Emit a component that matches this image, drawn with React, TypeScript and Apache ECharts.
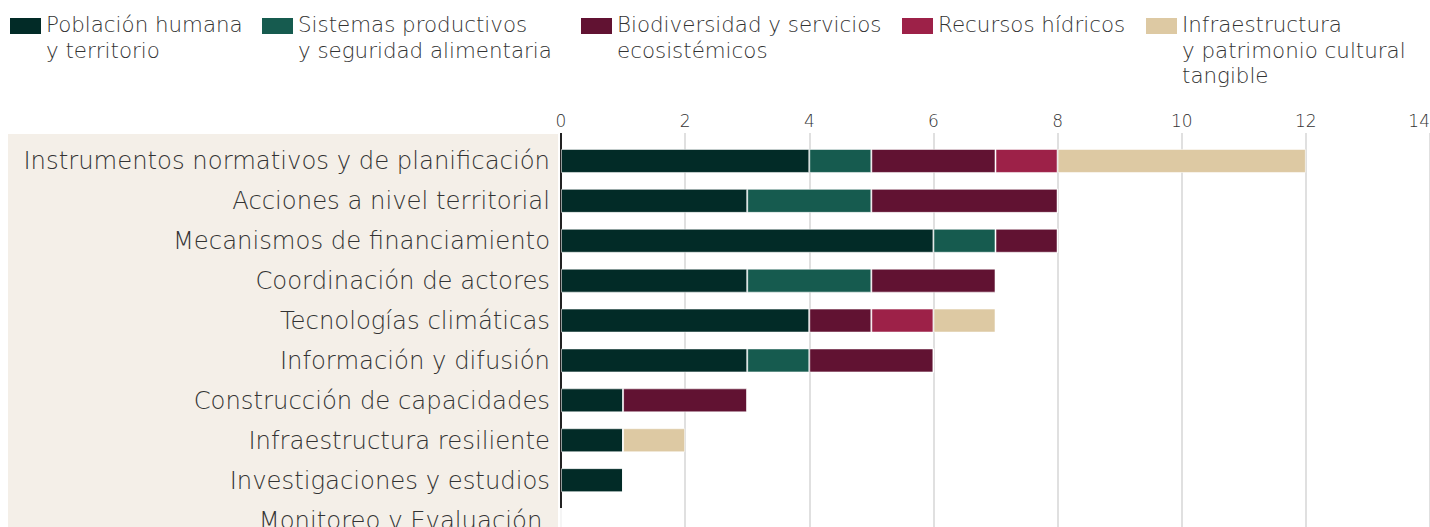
import React, { useEffect, useRef } from "react";
import * as echarts from "echarts";

const categories = [
  "Instrumentos normativos y de planificación",
  "Acciones a nivel territorial",
  "Mecanismos de financiamiento",
  "Coordinación de actores",
  "Tecnologías climáticas",
  "Información y difusión",
  "Construcción de capacidades",
  "Infraestructura resiliente",
  "Investigaciones y estudios",
  "Monitoreo y Evaluación ",
];

const seriesNames = [
  "Población humana y territorio",
  "Sistemas productivos y seguridad alimentaria",
  "Biodiversidad y servicios ecosistémicos",
  "Recursos hídricos",
  "Infraestructura y patrimonio cultural tangible",
];

const legendLabels = [
  "Población humana\ny territorio",
  "Sistemas productivos\ny seguridad alimentaria",
  "Biodiversidad y servicios\necosistémicos",
  "Recursos hídricos",
  "Infraestructura\ny patrimonio cultural\ntangible",
];

const poblacion = [4, 3, 6, 3, 4, 3, 1, 1, 1, 0];
const sistemas = [1, 2, 1, 2, 0, 1, 0, 0, 0, 0];
const biodiversidad = [2, 3, 1, 2, 1, 2, 2, 0, 0, 0];
const recursos = [1, 0, 0, 0, 1, 0, 0, 0, 0, 0];
const infraestructura = [4, 0, 0, 0, 1, 0, 0, 1, 0, 0];

const seriesValues = [poblacion, sistemas, biodiversidad, recursos, infraestructura];
const colors = ["#022B27", "#165B4F", "#611232", "#9D2148", "#DDC9A3"];
const legendLefts = [10, 262, 581, 902, 1146];

const FONT = "'DejaVu Sans', sans-serif";

export default function App() {
  const ref = useRef<HTMLDivElement>(null);
  useEffect(() => {
    document.body.style.margin = "0";
    if (!ref.current) return;
    const chart = echarts.init(ref.current, undefined, { renderer: "svg" });

    const legendGraphics: any[] = [];
    seriesNames.forEach((name, i) => {
      legendGraphics.push({
        type: "rect",
        shape: { x: legendLefts[i], y: 18, width: 31, height: 16 },
        style: { fill: colors[i] },
      });
      legendGraphics.push({
        type: "text",
        x: legendLefts[i] + 36,
        y: 12,
        style: {
          text: legendLabels[i],
          fill: "#333",
          fontFamily: FONT,
          fontSize: 21.4,
          fontWeight: 200,
          lineHeight: 25.5,
          verticalAlign: "top",
          align: "left",
        },
      });
    });

    chart.setOption({
      animation: false,
      textStyle: { fontFamily: FONT },
      grid: {
        left: 561,
        width: 869,
        top: 141,
        height: 399,
        containLabel: false,
        outerBoundsMode: "none",
      },
      xAxis: {
        type: "value",
        position: "top",
        min: 0,
        max: 14,
        interval: 2,
        axisLine: { show: false },
        axisTick: { show: true, length: 8, lineStyle: { color: "#d6d6d6", width: 1.5 } },
        splitLine: { show: true, lineStyle: { color: "#d6d6d6", width: 1.5 } },
        axisLabel: {
          fontFamily: FONT,
          fontSize: 17,
          fontWeight: 200,
          color: "#333",
          margin: 12,
          alignMaxLabel: "right",
        },
      },
      yAxis: {
        type: "category",
        inverse: true,
        data: categories,
        axisLine: { show: true, lineStyle: { color: "#222", width: 2 } },
        axisTick: { show: false },
        axisLabel: {
          fontFamily: FONT,
          fontSize: 24.3,
          fontWeight: 200,
          color: "#333",
          margin: 11,
        },
      },
      graphic: [
        {
          type: "rect",
          z: -10,
          shape: { x: 8, y: 134, width: 550, height: 400 },
          style: { fill: "#F4EFE8" },
        },
        {
          type: "line",
          z: 100,
          shape: { x1: 561, y1: 133, x2: 561, y2: 142 },
          style: { stroke: "#222", lineWidth: 2 },
        },
        ...legendGraphics,
      ],
      series: seriesNames.map((name, i) => ({
        name,
        type: "bar",
        stack: "total",
        barWidth: 24,
        data: seriesValues[i],
        itemStyle: {
          color: colors[i],
          borderColor: "rgba(255,255,255,0.55)",
          borderWidth: 1,
        },
      })),
    });
    return () => chart.dispose();
  }, []);
  return (
    <div
      ref={ref}
      style={{ position: "absolute", left: 0, top: 0, width: 1430, height: 527 }}
    />
  );
}
